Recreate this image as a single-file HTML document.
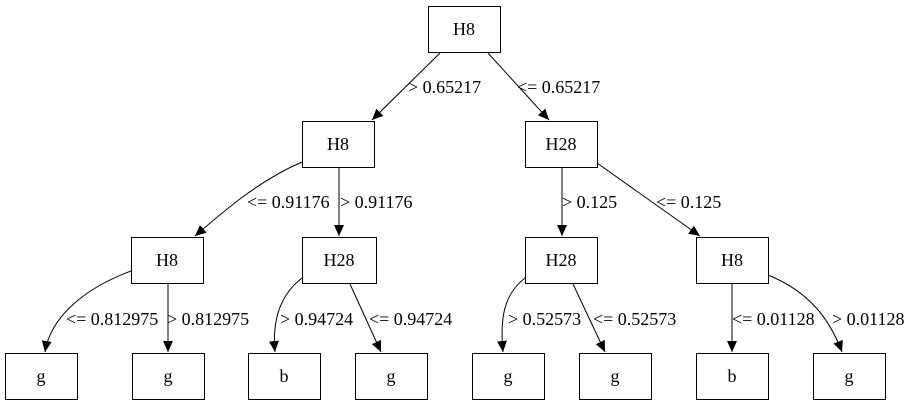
<!DOCTYPE html>
<html><head><meta charset="utf-8"><style>
html,body{margin:0;padding:0;background:#fff;}
svg{display:block;}
text{font-family:"Liberation Serif",serif;font-size:18px;fill:#000;}
</style></head><body>
<svg width="915" height="407" viewBox="0 0 915 407" xmlns="http://www.w3.org/2000/svg">
<defs><marker id="a" markerWidth="11" markerHeight="10" refX="11" refY="5" orient="auto" markerUnits="userSpaceOnUse"><path d="M0,0 L11,5 L0,10 z" fill="#000"/></marker></defs>
<g fill="#fff" stroke="#000" stroke-width="1">
<rect x="428.5" y="6.5" width="72" height="46"/>
<rect x="302.5" y="121.5" width="72" height="46"/>
<rect x="525.5" y="121.5" width="72" height="46"/>
<rect x="131.5" y="237.5" width="72" height="46"/>
<rect x="302.5" y="237.5" width="74" height="46"/>
<rect x="525.5" y="237.5" width="72" height="46"/>
<rect x="696.5" y="237.5" width="72" height="46"/>
<rect x="5.5" y="353.5" width="72" height="46"/>
<rect x="132.5" y="353.5" width="72" height="46"/>
<rect x="248.5" y="353.5" width="72" height="46"/>
<rect x="355.5" y="353.5" width="72" height="46"/>
<rect x="472.5" y="353.5" width="72" height="46"/>
<rect x="579.5" y="353.5" width="72" height="46"/>
<rect x="696.5" y="353.5" width="72" height="46"/>
<rect x="813.5" y="353.5" width="72" height="46"/>
</g>
<g fill="none" stroke="#000" stroke-width="1" marker-end="url(#a)">
<path d="M440,53 L372,120"/>
<path d="M488,53 L549,120"/>
<path d="M302,162 C260,180 225,210 195,236"/>
<path d="M339,168 L339,236"/>
<path d="M562,168 L562,236"/>
<path d="M597,163 L700,236"/>
<path d="M131,271 C80,290 50,320 45,352"/>
<path d="M168,284 L168,352"/>
<path d="M302,278 C280,295 272,320 275,352"/>
<path d="M350,284 L381,352"/>
<path d="M525,278 C503,295 500,320 503,352"/>
<path d="M573,284 L605,352"/>
<path d="M732,284 L732,352"/>
<path d="M768,275 C810,292 830,320 842,352"/>
</g>
<g text-anchor="middle">
<text x="464" y="35">H8</text>
<text x="338" y="150">H8</text>
<text x="561" y="150">H28</text>
<text x="167" y="266">H8</text>
<text x="339" y="266">H28</text>
<text x="561" y="266">H28</text>
<text x="732" y="266">H8</text>
<text x="41" y="382">g</text>
<text x="168" y="382">g</text>
<text x="284" y="382">b</text>
<text x="391" y="382">g</text>
<text x="508" y="382">g</text>
<text x="615" y="382">g</text>
<text x="732" y="382">b</text>
<text x="849" y="382">g</text>
</g>
<g>
<text x="408" y="93">&gt; 0.65217</text>
<text x="517" y="93">&lt;= 0.65217</text>
<text x="247" y="208">&lt;= 0.91176</text>
<text x="340" y="208">&gt; 0.91176</text>
<text x="562" y="208">&gt; 0.125</text>
<text x="656" y="208">&lt;= 0.125</text>
<text x="66" y="325">&lt;= 0.812975</text>
<text x="167" y="325">&gt; 0.812975</text>
<text x="280" y="325">&gt; 0.94724</text>
<text x="369" y="325">&lt;= 0.94724</text>
<text x="508" y="325">&gt; 0.52573</text>
<text x="593" y="325">&lt;= 0.52573</text>
<text x="732" y="325">&lt;= 0.01128</text>
<text x="832" y="325">&gt; 0.01128</text>
</g>
</svg>
</body></html>
